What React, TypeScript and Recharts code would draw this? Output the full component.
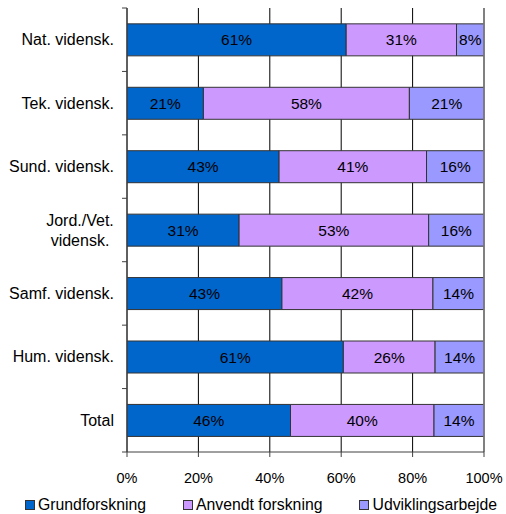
import React from 'react';
import { BarChart, Bar, XAxis, YAxis, CartesianGrid, LabelList, ReferenceLine } from 'recharts';

const categories = ['Nat. vidensk.', 'Tek. vidensk.', 'Sund. vidensk.', 'Jord./Vet.\nvidensk.', 'Samf. vidensk.', 'Hum. vidensk.', 'Total'];
const grundforskning = [61.4, 21.4, 42.6, 31.4, 43.4, 60.6, 45.8];
const anvendtForskning = [30.9, 57.7, 41.3, 53.1, 42.3, 25.7, 40.2];
const udviklingsarbejde = [7.7, 20.9, 16.1, 15.5, 14.3, 13.7, 14.0];
const xTicks = [0, 20, 40, 60, 80, 100];

const series = [
  { key: 'grund', name: 'Grundforskning', color: '#0066CC', values: grundforskning },
  { key: 'anvendt', name: 'Anvendt forskning', color: '#CC99FF', values: anvendtForskning },
  { key: 'udvikling', name: 'Udviklingsarbejde', color: '#9999FF', values: udviklingsarbejde },
];

const data = categories.map((c, i) => {
  const row: any = { category: c };
  series.forEach((s) => { row[s.key] = s.values[i]; });
  return row;
});

const FONT = '"Liberation Sans", Arial, sans-serif';
const TICK_SIZE = 5;
const TICK_MARGIN = 8;

const YTick = (props: any) => {
  const { x, y, payload, index, visibleTicksCount } = props;
  const lines = String(payload.value).split('\n');
  const half = payload.offset ?? 31.7;
  const axisX = x + TICK_SIZE + TICK_MARGIN;
  const isLast = index === (visibleTicksCount ?? categories.length) - 1;
  const lh = 20;
  const multi = lines.length > 1;
  return (
    <g>
      <line x1={axisX - TICK_SIZE} x2={axisX} y1={y - half} y2={y - half} stroke="#404040" />
      {isLast && <line x1={axisX - TICK_SIZE} x2={axisX} y1={y + half} y2={y + half} stroke="#404040" />}
      {lines.map((ln, i) => (
        <text
          key={i}
          x={multi ? x - 34 : x}
          y={y + (i - (lines.length - 1) / 2) * lh}
          dy="0.35em"
          textAnchor={multi ? 'middle' : 'end'}
          fontFamily={FONT}
          fontSize={16}
          fill="#000"
        >
          {ln}
        </text>
      ))}
    </g>
  );
};

const pct = (v: any) => `${Math.round(Number(v))}%`;

export default function App() {
  return (
    <div style={{ position: 'absolute', left: 0, top: 0, width: 506, height: 514, background: '#fff' }}>
      <BarChart
        width={506}
        height={514}
        data={data}
        layout="vertical"
        margin={{ top: 8, right: 22, left: 0, bottom: 0 }}
        barCategoryGap="25%"
      >
        <CartesianGrid vertical horizontal={false} stroke="#000" strokeDasharray="" />
        <XAxis
          type="number"
          domain={[0, 100]}
          ticks={xTicks}
          tickFormatter={(v) => `${v}%`}
          height={62}
          tickSize={TICK_SIZE}
          tickMargin={16}
          stroke="#404040"
          tick={{ fill: '#000', fontSize: 14.5, fontFamily: FONT }}
          allowDataOverflow
        />
        <YAxis
          type="category"
          dataKey="category"
          width={127}
          tickSize={TICK_SIZE}
          tickMargin={TICK_MARGIN}
          tickLine={false}
          stroke="#404040"
          tick={<YTick />}
          interval={0}
        />
        <ReferenceLine x={100} stroke="#808080" strokeWidth={1.5} />
        {series.map((s) => (
          <Bar key={s.key} dataKey={s.key} name={s.name} stackId="a" fill={s.color} stroke="#333" strokeWidth={1} isAnimationActive={false}>
            <LabelList dataKey={s.key} position="center" formatter={pct} fill="#000" fontSize={15.5} fontFamily={FONT} />
          </Bar>
        ))}
      </BarChart>
      <div
        style={{
          position: 'absolute',
          left: 25,
          top: 496,
          display: 'flex',
          alignItems: 'center',
          fontFamily: FONT,
          fontSize: 15.8,
          lineHeight: '18px',
          color: '#000',
          whiteSpace: 'nowrap',
        }}
      >
        {series.map((s, i) => (
          <div key={s.key} style={{ display: 'flex', alignItems: 'center', marginRight: i < series.length - 1 ? 37 : 0 }}>
            <span style={{ display: 'inline-block', width: 8, height: 8, background: s.color, border: '1px solid #333', marginRight: 3 }} />
            <span>{s.name}</span>
          </div>
        ))}
      </div>
    </div>
  );
}
